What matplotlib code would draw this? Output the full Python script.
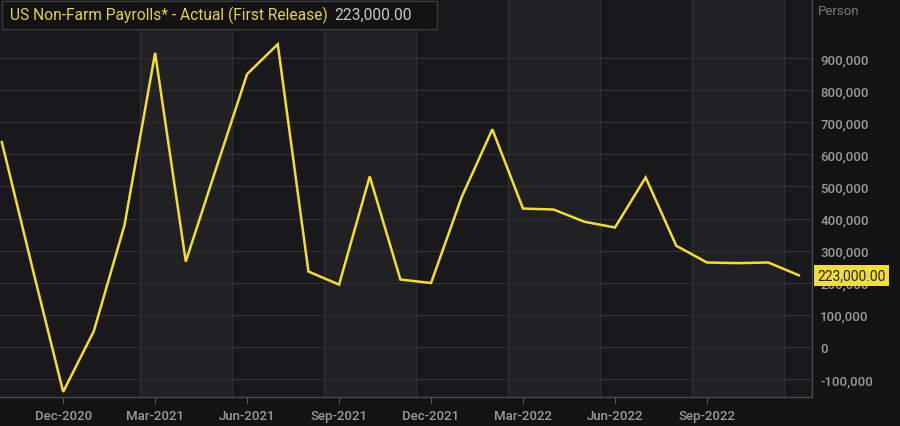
import matplotlib.pyplot as plt
import numpy as np

# monthly first-release payrolls, Oct-2020 .. Dec-2022
months = ['Oct-2020', 'Nov-2020', 'Dec-2020', 'Jan-2021', 'Feb-2021', 'Mar-2021',
          'Apr-2021', 'May-2021', 'Jun-2021', 'Jul-2021', 'Aug-2021', 'Sep-2021',
          'Oct-2021', 'Nov-2021', 'Dec-2021', 'Jan-2022', 'Feb-2022', 'Mar-2022',
          'Apr-2022', 'May-2022', 'Jun-2022', 'Jul-2022', 'Aug-2022', 'Sep-2022',
          'Oct-2022', 'Nov-2022', 'Dec-2022']
payrolls = [638000, 245000, -140000, 49000, 379000, 916000,
            266000, 559000, 850000, 943000, 235000, 194000,
            531000, 210000, 199000, 467000, 678000, 431000,
            428000, 390000, 372000, 528000, 315000, 263000,
            261000, 263000, 223000]
tick_labels = ['Dec-2020', 'Mar-2021', 'Jun-2021', 'Sep-2021', 'Dec-2021',
               'Mar-2022', 'Jun-2022', 'Sep-2022']
y_ticks = np.arange(-100000, 1000001, 100000)[:-1]

plt.rcParams['font.family'] = ['Roboto', 'DejaVu Sans']

bg = '#131313'
dark = '#19191b'
light = '#212124'
grid = '#303033'
txt = '#9a9a9a'
yellow = '#f2dc3c'

x = np.arange(len(payrolls))

fig = plt.figure(figsize=(9, 4.27), dpi=100, facecolor=bg)
ax = fig.add_axes([0.0, 0.068, 0.902, 0.932])
ax.set_facecolor(dark)

# alternating quarter bands
edges = np.arange(4.5, 27, 3)
for i, e in enumerate(edges):
    if i % 2 == 0:
        ax.axvspan(e, e + 3, color=light, lw=0, zorder=0)
    ax.axvline(e, color=grid, lw=0.9, zorder=1)
for v in y_ticks:
    ax.axhline(v, color=grid, lw=0.9, zorder=1)

ax.plot(x, payrolls, color=yellow, lw=1.8, zorder=3, solid_joinstyle='miter')

ax.set_xlim(-0.06, 26.42)
ax.set_ylim(-156000, 1084000)

ax.yaxis.tick_right()
ax.set_yticks(y_ticks)
ax.set_yticklabels([f'{v:,}' for v in y_ticks])
ax.set_xticks([months.index(t) for t in tick_labels])
ax.set_xticklabels(tick_labels)
ax.tick_params(axis='y', length=0, pad=6, labelcolor=txt, labelsize=9.5)
ax.tick_params(axis='x', length=5, color='#555555', pad=4, labelcolor=txt, labelsize=9.5)
for lab in ax.get_xticklabels() + ax.get_yticklabels():
    lab.set_fontweight('medium')

for s in ['top', 'left']:
    ax.spines[s].set_visible(False)
for s in ['right', 'bottom']:
    ax.spines[s].set_color('#4a4a4c')
    ax.spines[s].set_linewidth(1)

fig.text(0.909, 0.972, 'Person', color='#7a7a7a', fontsize=9.5, va='center')

# last value badge (covers the 200,000 label as in the source)
ax.annotate(f'{payrolls[-1]:,.2f}', xy=(1.0, payrolls[-1]),
            xycoords=('axes fraction', 'data'), xytext=(4, 0),
            textcoords='offset points', va='center', ha='left',
            fontsize=10, color='#262626',
            bbox=dict(boxstyle='square,pad=0.25', fc=yellow, ec='none'),
            annotation_clip=False, zorder=5)

# title box
t1 = fig.text(0.011, 0.963, 'US Non-Farm Payrolls* - Actual (First Release)',
              color='#e6cf4a', fontsize=11.2, va='center', zorder=6)
fig.canvas.draw()
bb = t1.get_window_extent().transformed(fig.transFigure.inverted())
fig.text(bb.x1 + 0.007, 0.963, f'{payrolls[-1]:,.2f}', color='#c8c8c8',
         fontsize=11.2, va='center', zorder=6)
fig.patches.append(plt.Rectangle((0.002, 0.93), 0.483, 0.066, transform=fig.transFigure,
                                 fc='#121212', ec='#3a3a3a', lw=1, zorder=5))

fig.savefig('out.png', dpi=100, facecolor=bg)
